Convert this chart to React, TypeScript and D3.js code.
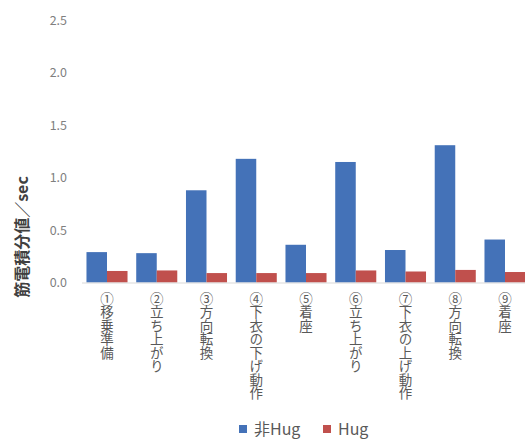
import React from "react";
import * as d3 from "d3";

const categories = [
  "①移乗準備",
  "②立ち上がり",
  "③方向転換",
  "④下衣の下げ動作",
  "⑤着座",
  "⑥立ち上がり",
  "⑦下衣の上げ動作",
  "⑧方向転換",
  "⑨着座",
];
const nonHug = [0.29, 0.28, 0.88, 1.18, 0.36, 1.15, 0.31, 1.31, 0.41];
const hug = [0.11, 0.115, 0.09, 0.09, 0.09, 0.115, 0.105, 0.12, 0.10];
const yTicks = [0, 0.5, 1.0, 1.5, 2.0, 2.5];
const seriesNames = ["非Hug", "Hug"];
const colors = ["#4472B8", "#C0504D"];

const W = 525;
const H = 443;
const font = "'Noto Sans CJK JP', 'Noto Sans', sans-serif";

export default function App() {
  const x = d3.scaleBand<string>().domain(categories).range([82, 530]).paddingInner(0.175).paddingOuter(0.09);
  const x1 = d3.scaleBand<number>().domain([0, 1]).range([0, x.bandwidth()]);
  const y = d3.scaleLinear().domain([0, 2.5]).range([282.5, 20.5]);
  const series = [nonHug, hug];

  return (
    <svg width={W} height={H} style={{ position: "absolute", left: 0, top: 0, background: "#fff" }} fontFamily={font}>
      {yTicks.map((t) => (
        <text key={t} x={67} y={y(t)} dy="0.36em" textAnchor="end" fontSize={12.5} fill="#7f7f7f">
          {t.toFixed(1)}
        </text>
      ))}
      <text
        transform={`translate(21,${237}) rotate(-90)`}
        textAnchor="middle"
        dominantBaseline="central"
        fontSize={16}
        fontWeight="bold"
        fill="#404040"
      >
        筋電積分値／sec
      </text>
      {series.map((vals, si) =>
        vals.map((v, i) => (
          <rect
            key={`${si}-${i}`}
            x={(x(categories[i]) ?? 0) + (x1(si) ?? 0)}
            y={y(v)}
            width={x1.bandwidth()}
            height={y(0) - y(v)}
            fill={colors[si]}
          />
        ))
      )}
      <line x1={82} x2={W} y1={y(0) + 0.5} y2={y(0) + 0.5} stroke="#d9d9d9" />
      {categories.map((c) => (
        <text
          key={c}
          x={(x(c) ?? 0) + x.bandwidth() / 2}
          y={292}
          fontSize={13.5}
          fill="#595959"
          style={{ writingMode: "vertical-rl", textOrientation: "upright" } as any}
        >
          {c}
        </text>
      ))}
      {seriesNames.map((s, i) => {
        const lx = [239, 323][i];
        return (
          <g key={s}>
            <rect x={lx} y={425} width={8} height={8} fill={colors[i]} />
            <text x={lx + 15} y={429} dy="0.36em" fontSize={16} fill="#595959">
              {s}
            </text>
          </g>
        );
      })}
    </svg>
  );
}
